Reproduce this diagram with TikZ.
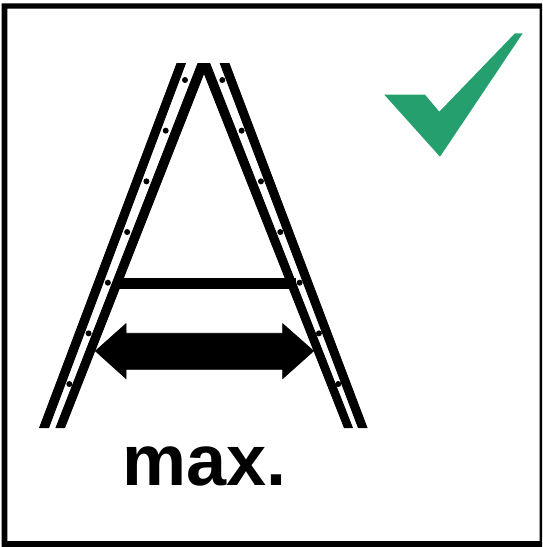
\documentclass[tikz,border=0pt]{standalone}
\usepackage{fontspec}
\setmainfont{Liberation Sans}
\definecolor{tick}{HTML}{259F6D}
\begin{document}
\begin{tikzpicture}[
  x=1pt,y=-1pt,
  rail/.style={fill=black,draw=black,line width=.8pt},
  hole/.style={fill=black,draw=none,radius=3pt},
  caption/.style={font=\fontsize{72}{72}\bfseries,inner sep=0pt,anchor=base}
]
  \useasboundingbox (0,0) rectangle (542,547);
  % frame
  \fill[even odd rule] (1.5,3.3) rectangle (542,547)
    (7.3,8.7) rectangle (539.5,541);

  % ladder rails
  \filldraw[rail] (39.6,427.6) -- (176.9,63.4) -- (185.5,63.4) -- (48.7,427.6) -- cycle;
  \filldraw[rail] (56,427.6) -- (197.9,63.4) -- (209.8,63.4) -- (352.4,427.6)
    -- (344.3,427.6) -- (204,73) -- (64.7,427.6) -- cycle;
  \filldraw[rail] (358.3,427.6) -- (220.2,63.4) -- (229.1,63.4) -- (367,427.6) -- cycle;
  \filldraw[rail] (118,277.9) rectangle (295,287.9);
  \foreach \i in {0,...,6}{
    \fill[hole] ({185-19.28*\i},{80+50.67*\i}) circle[];
    \fill[hole] ({222.3+19.33*\i},{80+50.67*\i}) circle[];
  }

  % span arrow
  \filldraw[rail] (95.5,351) -- (126,323.8) -- (126,333.3) -- (282.7,333.3)
    -- (282.7,323.8) -- (313.5,351) -- (282.7,378.5) -- (282.7,369.3)
    -- (126,369.3) -- (126,378.5) -- cycle;

  % tick
  \fill[tick] (384.3,94.7) -- (425,94.7) -- (439.3,111.7) -- (515,33.3)
    -- (522.7,33.3) -- (440,156.7) -- cycle;

  \node[caption] (maxlabel) at (204.5,485.7) {max.};
\end{tikzpicture}
\end{document}
